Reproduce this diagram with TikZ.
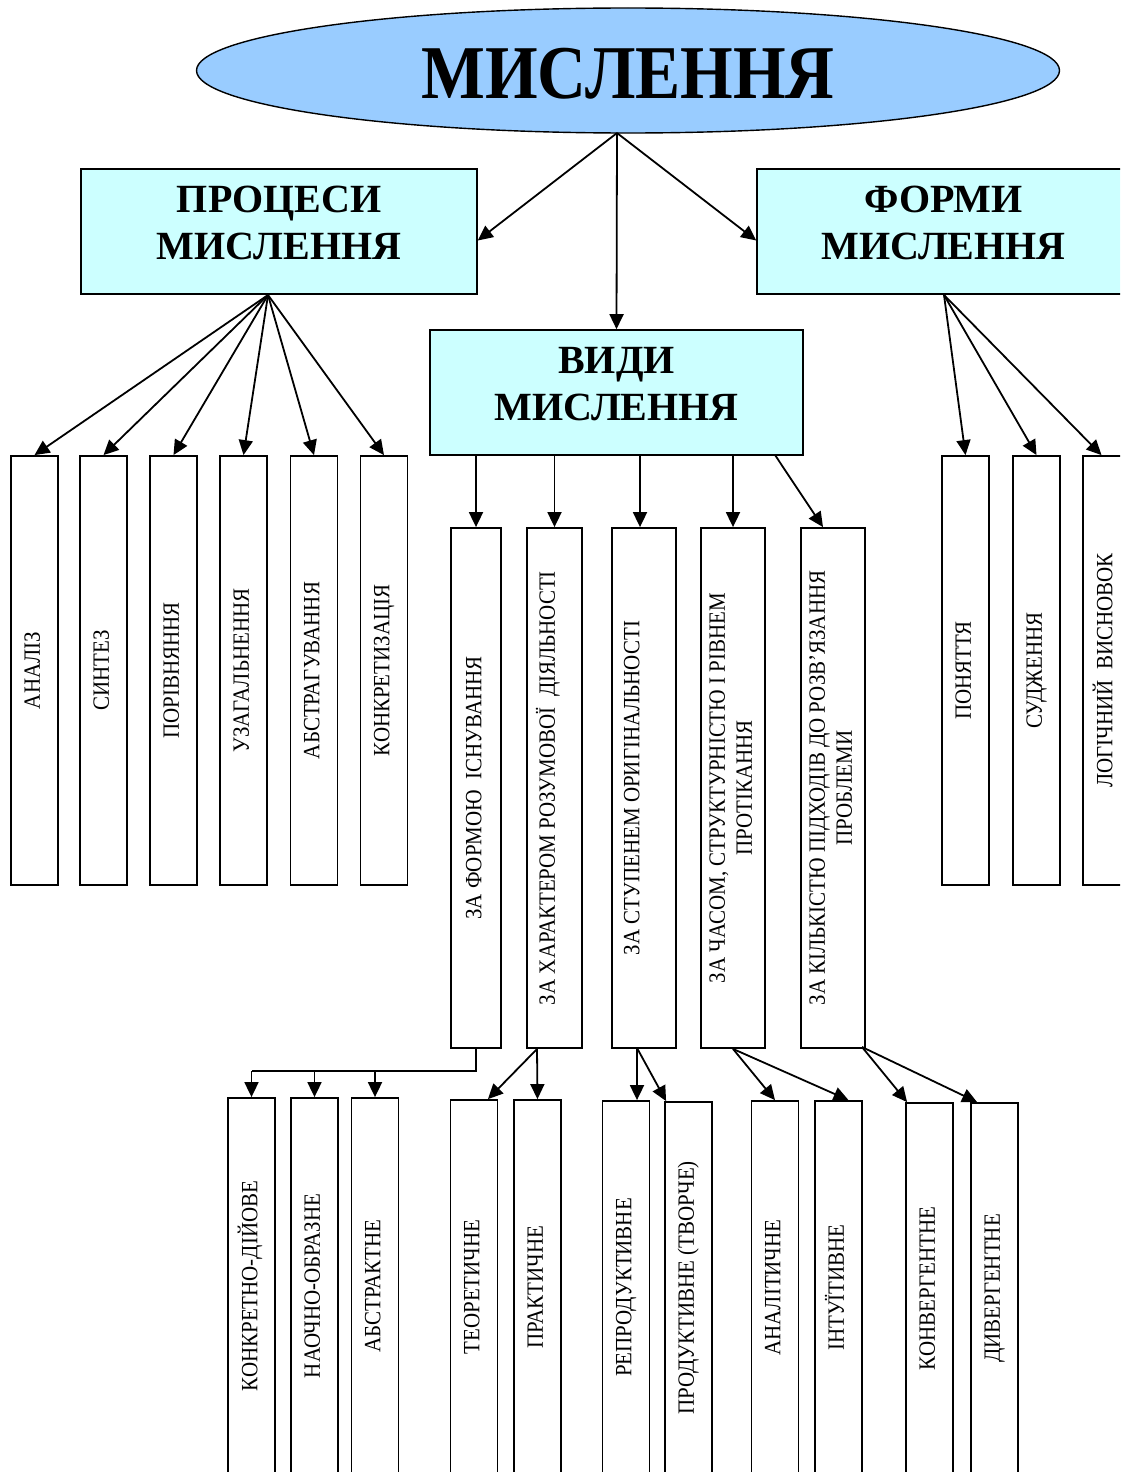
\documentclass[tikz,border=0pt]{standalone}
\usepackage{fontspec}
\setmainfont{Liberation Serif}
\newfontfamily\condfont[FakeStretch=0.9]{Liberation Serif}
\newfontfamily\titlefont[FakeStretch=0.89]{Liberation Serif}
\usetikzlibrary{arrows.meta,shapes.geometric}
\definecolor{ellblue}{HTML}{99CCFF}
\definecolor{boxcyan}{HTML}{CCFFFF}
\newcommand\vt[2][0pt]{\rotatebox{90}{\raisebox{#1}[\height][\depth]{\begin{tabular}{@{}c@{}}#2\end{tabular}}}}
\newcommand\hd[1]{\raisebox{5pt}[\height][\depth]{\begin{tabular}{@{}c@{}}#1\end{tabular}}}
\begin{document}
\begin{tikzpicture}[x=1pt,y=-1pt,
  hdr/.style={draw, line width=1.6pt, fill=boxcyan, inner sep=0pt, align=center,
    font=\bfseries\fontsize{40}{47}\selectfont, minimum height=125pt},
  vb/.style={draw, line width=1.8pt, fill=white, inner sep=0pt,
    font=\condfont\fontsize{23.3}{27}\selectfont},
  sb/.style={vb, minimum width=47pt, minimum height=429pt},
  mb/.style={vb, minimum height=520pt},
  bb/.style={vb, minimum width=47pt},
  arr/.style={line width=1.8pt, -{Triangle[length=15pt,width=14pt]}},
  ln/.style={line width=1.8pt}]
\useasboundingbox (0,0) rectangle (1120,1472);
\clip (0,0) rectangle (1120,1472);
\fill[white] (0,0) rectangle (1120,1472);

% title
\node[ellipse, draw, line width=1.4pt, fill=ellblue, inner sep=0pt,
  minimum width=863pt, minimum height=125pt,
  font=\titlefont\bfseries\fontsize{76}{80}\selectfont] (ell) at (628,70.5)
  {\raisebox{-3.5pt}[\height][\depth]{МИСЛЕННЯ}};

% header boxes
\node[hdr, minimum width=396pt] (proc) at (279,231.5) {\hd{ПРОЦЕСИ\\МИСЛЕННЯ}};
\node[hdr, minimum width=373pt] (vidy) at (616.5,392.5) {\hd{ВИДИ\\МИСЛЕННЯ}};
\node[hdr, minimum width=373pt] (form) at (943.5,231.5) {\hd{ФОРМИ\\МИСЛЕННЯ}};

% processes
\node[sb] (p1) at (34.5,670.5) {\vt{АНАЛІЗ}};
\node[sb] (p2) at (103.5,670.5) {\vt{СИНТЕЗ}};
\node[sb] (p3) at (173.5,670.5) {\vt{ПОРІВНЯННЯ}};
\node[sb] (p4) at (243.5,670.5) {\vt{УЗАГАЛЬНЕННЯ}};
\node[sb] (p5) at (314,670.5) {\vt{АБСТРАГУВАННЯ}};
\node[sb] (p6) at (384,670.5) {\vt{КОНКРЕТИЗАЦІЯ}};

% forms
\node[sb] (f1) at (965.5,670.5) {\vt{ПОНЯТТЯ}};
\node[sb] (f2) at (1036.5,670.5) {\vt{СУДЖЕННЯ}};
\node[sb] (f3) at (1106.5,670.5) {\vt{ЛОГІЧНИЙ~~ВИСНОВОК}};

% kinds
\node[mb, minimum width=50pt] (m1) at (476,788) {\vt{ЗА ФОРМОЮ~~ІСНУВАННЯ}};
\node[mb, minimum width=55pt] (m2) at (554.5,788) {\vt[5pt]{ЗА ХАРАКТЕРОМ РОЗУМОВОЇ~~ДІЯЛЬНОСТІ}};
\node[mb, minimum width=64pt] (m3) at (644,788) {\vt[10pt]{ЗА СТУПЕНЕМ ОРИГІНАЛЬНОСТІ}};
\node[mb, minimum width=64pt] (m4) at (733,788) {\vt{ЗА ЧАСОМ, СТРУКТУРНІСТЮ І РІВНЕМ\\ПРОТІКАННЯ}};
\node[mb, minimum width=64pt] (m5) at (833,788) {\vt{ЗА КІЛЬКІСТЮ ПІДХОДІВ ДО РОЗВ’ЯЗАННЯ\\ПРОБЛЕМИ}};

% bottom row
\node[bb, minimum height=376pt] (b1) at (251.5,1286) {\vt{КОНКРЕТНО-ДІЙОВЕ}};
\node[bb, minimum height=376pt] (b2) at (314.5,1286) {\vt{НАОЧНО-ОБРАЗНЕ}};
\node[bb, minimum height=376pt] (b3) at (375,1286) {\vt{АБСТРАКТНЕ}};
\node[bb, minimum height=374pt] (b4) at (474,1287) {\vt{ТЕОРЕТИЧНЕ}};
\node[bb, minimum height=374pt] (b5) at (537.5,1287) {\vt{ПРАКТИЧНЕ}};
\node[bb, minimum height=373pt] (b6) at (626,1287.5) {\vt{РЕПРОДУКТИВНЕ}};
\node[bb, minimum height=372pt] (b7) at (688.5,1288) {\vt{ПРОДУКТИВНЕ (ТВОРЧЕ)}};
\node[bb, minimum height=373pt] (b8) at (775,1287.5) {\vt{АНАЛІТИЧНЕ}};
\node[bb, minimum height=373pt] (b9) at (838.5,1287.5) {\vt{ІНТУЇТИВНЕ}};
\node[bb, minimum height=371pt] (b10) at (929.5,1288.5) {\vt{КОНВЕРГЕНТНЕ}};
\node[bb, minimum height=371pt] (b11) at (994.5,1288.5) {\vt{ДИВЕРГЕНТНЕ}};

% arrows from title
\coordinate (eb) at (617,133);
\draw[arr] (eb) -- ([yshift=-9pt]proc.east);
\draw[arr] (eb) -- (vidy.north);
\draw[arr] (eb) -- ([yshift=-9pt]form.west);

% processes
\coordinate (ps) at (268,295);
\foreach \n in {p1,p2,p3,p4,p5,p6} \draw[arr] (ps) -- (\n.north);

% forms
\coordinate (fs) at (944,295);
\draw[arr] (fs) -- (f1.north);
\draw[arr] (fs) -- (f2.north);
\draw[arr] (fs) -- ([xshift=-5pt]f3.north);

% kinds
\foreach \n in {m1,m2,m4} \draw[arr] (\n.north |- vidy.south) -- (\n.north);
\draw[arr] ([xshift=-4pt]m3.north |- vidy.south) -- ([xshift=-4pt]m3.north);
\coordinate (v5) at (775,455);
\draw[arr] (v5) -- ([xshift=-10pt]m5.north);

% bottom connectors
\coordinate (j1) at (476,1071);
\draw[ln] (m1.south) -- (j1) -- (j1 -| b1.north);
\foreach \n in {b1,b2,b3} \draw[arr] (j1 -| \n.north) -- (\n.north);

\coordinate (c2) at (537,1049);
\draw[arr] (c2) -- ([xshift=14pt]b4.north);
\draw[arr] (c2) -- (b5.north);

\coordinate (c3) at (637,1048);
\draw[arr] (c3) -- (c3 |- b6.north);
\draw[arr] (c3) -- ([xshift=2pt]b7.north west);

\draw[arr] (m4.south) -- (b8.north);
\draw[arr] (m4.south) -- ([xshift=10pt]b9.north);

\coordinate (c5) at (862,1047);
\draw[arr] (c5) -- ([xshift=2pt]b10.north west);
\draw[arr] (c5) -- ([xshift=7pt]b11.north west);
\end{tikzpicture}
\end{document}
